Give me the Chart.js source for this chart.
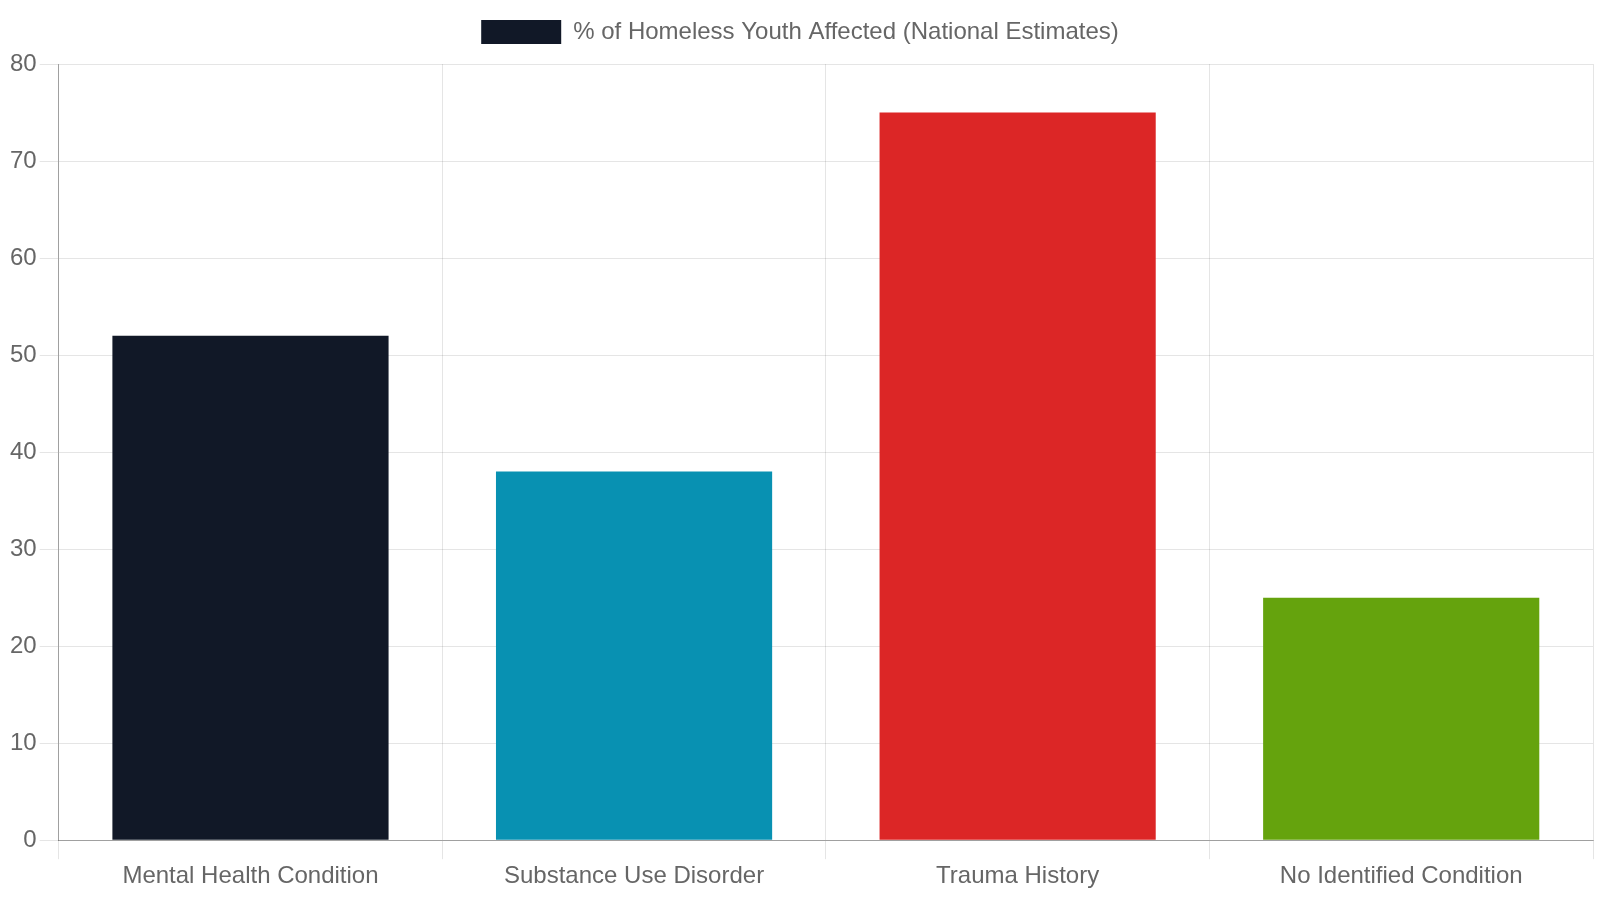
<!DOCTYPE html>
<html>
<head>
<meta charset="utf-8">
<script src="https://cdn.jsdelivr.net/npm/chart.js@4"></script>
<style>
    html, body { margin: 0; padding: 0; background: #fff; }
    #wrap { width: 1600px; height: 900px; }
</style>
</head>
<body>
<div id="wrap"><canvas id="chart"></canvas></div>
<script>
// --- Data ---
const categories = ['Mental Health Condition', 'Substance Use Disorder', 'Trauma History', 'No Identified Condition'];
const percentAffected = [52, 38, 75, 25];
const barColors = ['#111827', '#0891b2', '#dc2626', '#65a30d'];
const seriesLabel = '% of Homeless Youth Affected (National Estimates)';

Chart.defaults.font.family = '"Liberation Sans", Arial, sans-serif';
Chart.defaults.font.size = 24;
Chart.defaults.color = '#666';

const gridStyle = { color: 'rgba(0,0,0,0.1)', tickLength: 19 };
const borderStyle = { color: 'rgba(0,0,0,0.3)' };

// a bit more room between the legend and the plot
const legendSpacing = {
    id: 'legendSpacing',
    beforeInit(chart) {
        const origFit = chart.legend.fit;
        chart.legend.fit = function () {
            origFit.bind(chart.legend)();
            this.height += 10;
        };
    }
};

const ctx = document.getElementById('chart').getContext('2d');
new Chart(ctx, {
    type: 'bar',
    data: {
        labels: categories,
        datasets: [{
            label: seriesLabel,
            data: percentAffected,
            backgroundColor: barColors,
            borderWidth: 0
        }]
    },
    options: {
        responsive: true,
        maintainAspectRatio: false,
        animation: false,
        layout: {
            padding: { top: 0, left: 7, right: 7, bottom: 6 }
        },
        scales: {
            x: {
                grid: gridStyle,
                border: borderStyle
            },
            y: {
                beginAtZero: true,
                max: 80,
                ticks: { stepSize: 10 },
                grid: gridStyle,
                border: borderStyle
            }
        },
        plugins: {
            legend: {
                labels: { boxWidth: 80, padding: 20 }
            }
        }
    },
    plugins: [legendSpacing]
});
</script>
</body>
</html>
